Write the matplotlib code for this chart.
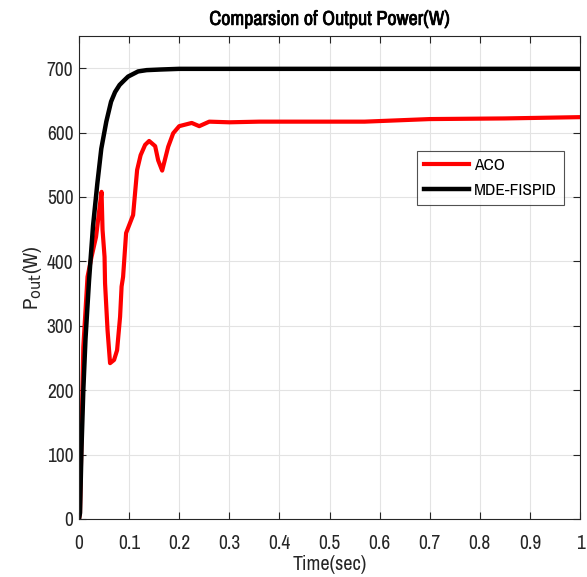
import matplotlib.pyplot as plt
import matplotlib.patheffects as pe
from matplotlib import font_manager

# ACO response
t_aco = [0, 0.002, 0.0086, 0.017, 0.025, 0.034, 0.0405, 0.045, 0.047, 0.051, 0.052,
         0.057, 0.062, 0.070, 0.076, 0.082, 0.085, 0.088, 0.094, 0.108, 0.116,
         0.123, 0.132, 0.140, 0.152, 0.158, 0.166, 0.178, 0.188, 0.200, 0.225,
         0.240, 0.260, 0.300, 0.360, 0.570, 0.700, 0.850, 1.0]
p_aco = [0, 10, 267, 376, 407, 438, 480, 508, 449, 407, 366,
         293, 242, 247, 262, 314, 361, 376, 444, 472, 542,
         565, 581, 587, 579, 557, 541, 578, 599, 610, 615,
         610, 617, 616, 617, 617, 621, 622, 624]

# MDE-FISPID response
t_mde = [0, 0.002, 0.005, 0.0086, 0.013, 0.02, 0.028, 0.0366, 0.0445, 0.0545, 0.064,
         0.072, 0.081, 0.09, 0.098, 0.108, 0.118, 0.135, 0.164, 0.2, 0.23, 0.3,
         0.5, 0.7, 1.0]
p_mde = [0, 9, 110, 200, 280, 370, 455, 521, 575, 617, 648,
         663, 674, 681, 687, 691, 695, 697, 698, 699, 699, 699,
         699, 699, 699]

names = set(f.name for f in font_manager.fontManager.ttflist)
fam = 'Liberation Sans'
for c in ['Liberation Sans Narrow', 'Arial Narrow', 'Archivo Narrow', 'PT Sans Narrow',
          'Roboto Condensed', 'Pragati Narrow']:
    if c in names:
        fam = c
        break
plt.rcParams['font.family'] = [fam, 'DejaVu Sans']

fig = plt.figure(figsize=(5.87, 5.77), dpi=100)
ax = fig.add_axes([79 / 587, 1 - 519 / 577, 501 / 587, 483 / 577])

ax.plot(t_aco, p_aco, color='#ff0000', lw=3, label='ACO')
ax.plot(t_mde, p_mde, color='black', lw=3.2, label='MDE-FISPID')

ax.set_xlim(0, 1)
ax.set_ylim(0, 750)
ax.set_xticks([i / 10 for i in range(11)])
ax.set_xticklabels(['0', '0.1', '0.2', '0.3', '0.4', '0.5', '0.6', '0.7', '0.8', '0.9', '1'])
ax.set_yticks(range(0, 701, 100))
ax.grid(True, color='#e3e3e3', lw=0.8)
ax.tick_params(direction='in', top=True, right=True, labelsize=14, colors='#262626', length=5)
ax.tick_params(axis='x', pad=11)
ax.tick_params(axis='y', pad=4)
for s in ax.spines.values():
    s.set_color('#262626')
    s.set_linewidth(0.8)

title = ax.set_title('Comparsion of Output Power(W)', fontsize=14.5, fontweight='bold', pad=8)
title.set_path_effects([pe.withStroke(linewidth=0.5, foreground='black')])
ax.set_xlabel('Time(sec)', fontsize=14.5, color='#262626', labelpad=1)
ax.set_ylabel(r'P$_{\mathrm{out}}$(W)', fontsize=15, color='#262626', labelpad=2)

leg = ax.legend(loc='upper right', bbox_to_anchor=(0.985, 0.78), fontsize=12.5,
                frameon=True, fancybox=False, edgecolor='#262626',
                handlelength=2.6, borderpad=0.4, labelspacing=0.55, handletextpad=0.3)
leg.get_frame().set_linewidth(0.8)

plt.savefig('out.png', dpi=100)
